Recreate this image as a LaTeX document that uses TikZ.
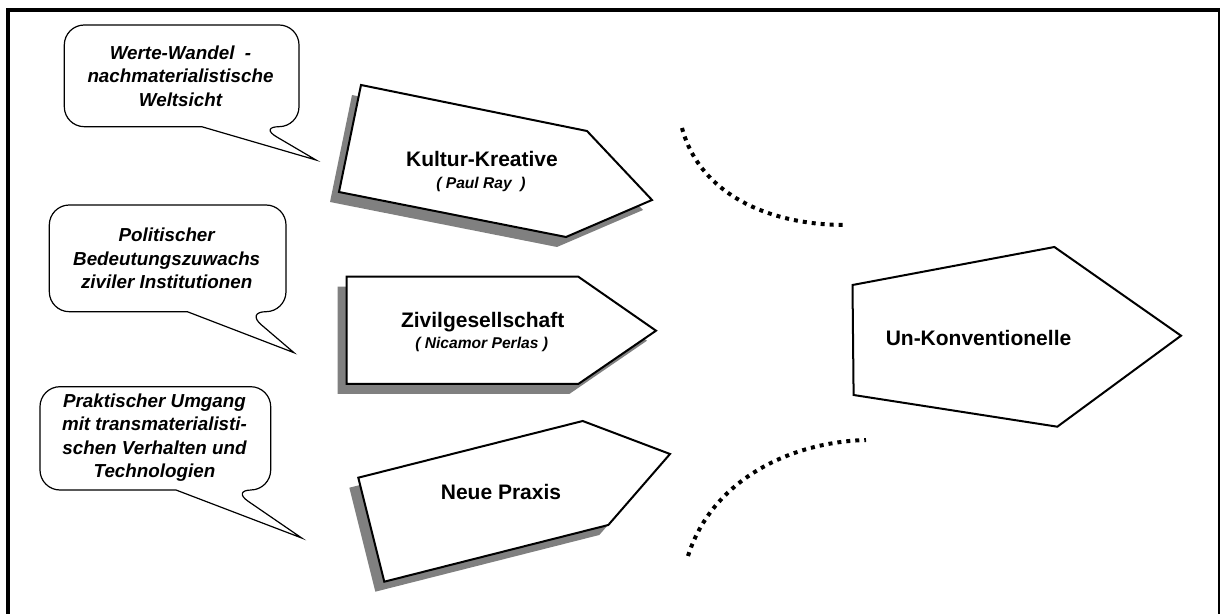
\documentclass[tikz,border=0pt]{standalone}
\usepackage{fontspec}
\setmainfont{Liberation Sans}

\begin{document}
\begin{tikzpicture}[x=0.5pt,y=-0.5pt,
		frame line/.style = {line width=2pt},
		arrow shape/.style = {draw,fill=white,line width=1pt,line join=miter,
			preaction={fill=black!50,transform canvas={shift={(-9,10)}}}},
		goal shape/.style = {draw,fill=white,line width=1pt,line join=miter},
		bubble/.style = {draw,fill=white,line width=0.6pt},
		main label/.style = {inner sep=0pt,font=\fontsize{10.5}{12.6}\selectfont\bfseries},
		sub label/.style = {inner sep=0pt,font=\fontsize{7.8}{9.4}\selectfont\bfseries\itshape},
		bubble text/.style = {inner sep=0pt,align=center,font=\fontsize{9.4}{11.7}\selectfont\bfseries\itshape},
		dots/.style = {line width=2pt,dash pattern=on 2pt off 2.5pt}]
		
		\useasboundingbox (0,0) rectangle (1220,614);
		\draw[frame line] (8,614) -- (8,10) -- (1220,10);
		\draw[line width=0.7pt] (1219,10) -- (1219,614);
		
		% speech bubbles
		\draw[bubble] (201.7,126.7) [rounded corners=10pt] -- (64.3,126.7) -- (64.3,25) -- (299,25)
			-- (299,126.7) -- (259.3,126.7) [sharp corners] -- (316,160) -- cycle;
		\draw[bubble] (187.3,311.7) [rounded corners=10pt] -- (49.3,311.7) -- (49.3,205) -- (286,205)
			-- (286,311.7) -- (246,311.7) [sharp corners] -- (294,352.7) -- cycle;
		\draw[bubble] (176,490) [rounded corners=10pt] -- (40,490) -- (40,386.7) -- (270.7,386.7)
			-- (270.7,490) -- (231.7,490) [sharp corners] -- (301.7,538) -- cycle;
		
		\node[bubble text] (werte) at (180.5,76) {Werte-Wandel~~-\\nachmaterialistische\\Weltsicht};
		\node[bubble text] (politik) at (166.7,258.5) {Politischer\\Bedeutungszuwachs\\ziviler Institutionen};
		\node[bubble text] (praxis) at (154.5,437.5) {Praktischer Umgang\\mit transmaterialisti-\\schen Verhalten und\\Technologien};
		
		% arrow shapes
		\draw[arrow shape] (361,85) -- (587,131) -- (652,200) -- (566,237) -- (339,192) -- cycle;
		\draw[arrow shape] (346.7,276.7) -- (578.3,276.7) -- (656,330.7) -- (578.3,384) -- (346.7,384) -- cycle;
		\draw[arrow shape] (358.3,477.7) -- (582.7,421) -- (670,454) -- (608.3,525) -- (384.3,581.7) -- cycle;
		\draw[goal shape] (852.5,285) -- (1054.4,247) -- (1181,335.7) -- (1057.3,426.7) -- (853.6,395) -- cycle;
		
		\node[main label] (kultur) at (482,159) {Kultur-Kreative};
		\node[sub label] (ray) at (481,184) {( Paul Ray~~)};
		\node[main label] (zivil) at (482.7,322) {Zivilgesellschaft};
		\node[sub label] (perlas) at (481.7,344) {( Nicamor Perlas )};
		\node[main label] (neue) at (501,491.5) {Neue Praxis};
		\node[main label] (unkonv) at (978.5,337.5) {Un-Konventionelle};
		
		% dotted arcs
		\draw[dots] (682,128) .. controls (700,195) and (770,225) .. (845,225);
		\draw[dots] (688,556) .. controls (712,480) and (790,442) .. (866,440);
		\end{tikzpicture}
\end{document}
